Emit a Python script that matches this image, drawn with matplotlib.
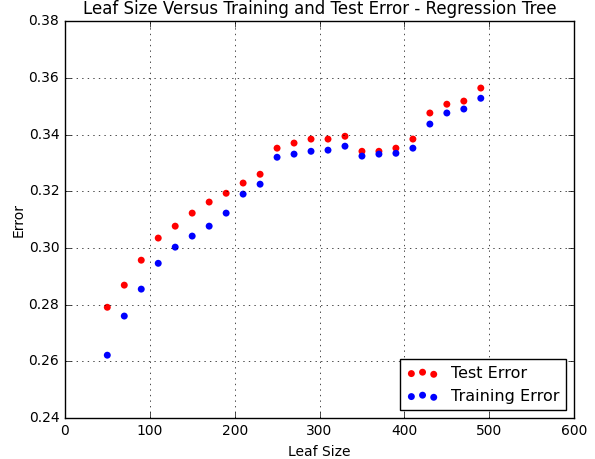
import matplotlib
matplotlib.use('Agg')
import matplotlib.pyplot as plt

plt.style.use('classic')

leaf_size = [50, 70, 90, 110, 130, 150, 170, 190, 210, 230, 250, 270,
             290, 310, 330, 350, 370, 390, 410, 430, 450, 470, 490]
test_error = [0.2791, 0.2869, 0.2957, 0.3035, 0.3077, 0.3123, 0.3162, 0.3193,
              0.3229, 0.3260, 0.3352, 0.3370, 0.3384, 0.3384, 0.3394, 0.3341,
              0.3341, 0.3352, 0.3384, 0.3476, 0.3507, 0.3518, 0.3564]
train_error = [0.2622, 0.2760, 0.2855, 0.2946, 0.3003, 0.3042, 0.3077, 0.3123,
               0.3190, 0.3225, 0.3320, 0.3331, 0.3341, 0.3345, 0.3359, 0.3324,
               0.3331, 0.3334, 0.3352, 0.3437, 0.3476, 0.3490, 0.3528]

fig = plt.figure(figsize=(5.95, 4.59), dpi=100)
ax = fig.add_axes([0.109, 0.089, 0.856, 0.865])

ax.scatter(leaf_size, test_error, color='red', edgecolor='none', s=25, label='Test Error')
ax.scatter(leaf_size, train_error, color='blue', edgecolor='none', s=25, label='Training Error')

ax.set_xlim(0, 600)
ax.set_ylim(0.24, 0.38)
ax.set_xticks(range(0, 601, 100))
ax.set_yticks([0.24, 0.26, 0.28, 0.30, 0.32, 0.34, 0.36, 0.38])
ax.set_yticklabels(['0.24', '0.26', '0.28', '0.30', '0.32', '0.34', '0.36', '0.38'])
ax.tick_params(labelsize=10)
ax.grid(True)
ax.set_title('Leaf Size Versus Training and Test Error - Regression Tree', fontsize=12)
ax.set_xlabel('Leaf Size', fontsize=10)
ax.set_ylabel('Error', fontsize=10, labelpad=2)
ax.legend(loc='lower right', scatterpoints=3, fontsize=11.5)

fig.savefig('out.png', dpi=100)
